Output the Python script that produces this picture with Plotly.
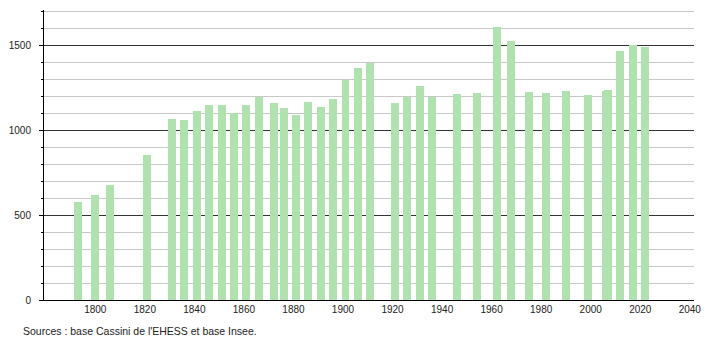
import plotly.graph_objects as go

years = [1793, 1800, 1806, 1821, 1831, 1836, 1841, 1846, 1851, 1856, 1861, 1866,
         1872, 1876, 1881, 1886, 1891, 1896, 1901, 1906, 1911, 1921, 1926, 1931,
         1936, 1946, 1954, 1962, 1968, 1975, 1982, 1990, 1999, 2006, 2007, 2012,
         2017, 2022]
population = [578, 618, 676, 853, 1063, 1060, 1112, 1147, 1147, 1098, 1147, 1196,
              1157, 1131, 1088, 1163, 1133, 1182, 1294, 1363, 1396, 1157, 1196, 1259,
              1196, 1210, 1216, 1604, 1525, 1225, 1216, 1229, 1204, 1229, 1235, 1465,
              1500, 1488]
x_ticks = [1800, 1820, 1840, 1860, 1880, 1900, 1920, 1940, 1960, 1980, 2000, 2020, 2040]
y_ticks = [0, 500, 1000, 1500]
source_text = "Sources : base Cassini de l'EHESS et base Insee."

bar_color = "rgb(176,226,176)"
font_family = "Liberation Sans, Arial, sans-serif"

fig = go.Figure()
fig.add_trace(go.Bar(
    x=years,
    y=population,
    width=[3.2] * len(years),
    marker=dict(color=bar_color, line=dict(width=0)),
    hoverinfo="x+y",
))

fig.update_layout(
    width=710,
    height=340,
    margin=dict(l=43, r=9, t=10, b=40),
    paper_bgcolor="white",
    plot_bgcolor="white",
    showlegend=False,
    bargap=0,
    font=dict(family=font_family, size=10, color="#222"),
    xaxis=dict(
        range=[1779.3, 2041.7],
        tickmode="array",
        tickvals=x_ticks,
        ticktext=[str(v) for v in x_ticks],
        showgrid=False,
        zeroline=False,
        showline=True,
        linecolor="#000",
        linewidth=1,
        ticks="",
        tickfont=dict(family=font_family, size=10, color="#222"),
    ),
    yaxis=dict(
        range=[0, 1706],
        tickmode="array",
        tickvals=y_ticks,
        ticktext=[str(v) for v in y_ticks],
        showgrid=True,
        gridcolor="#333",
        gridwidth=1,
        zeroline=False,
        showline=True,
        linecolor="#000",
        linewidth=1,
        ticks="outside",
        ticklen=4,
        tickcolor="#000",
        ticklabelstandoff=6,
        tickfont=dict(family=font_family, size=10, color="#222"),
        minor=dict(
            dtick=100,
            tick0=0,
            ticks="outside",
            ticklen=2,
            tickcolor="#000",
            showgrid=True,
            gridcolor="#c8c8c8",
            gridwidth=1,
        ),
    ),
    annotations=[dict(
        text=source_text,
        xref="paper", yref="paper",
        x=-43 / 658 + 20 / 658, y=0,
        xanchor="left", yanchor="middle",
        yshift=-31,
        showarrow=False,
        font=dict(family=font_family, size=10.5, color="#222"),
    )],
)

fig.write_html("out.html")
